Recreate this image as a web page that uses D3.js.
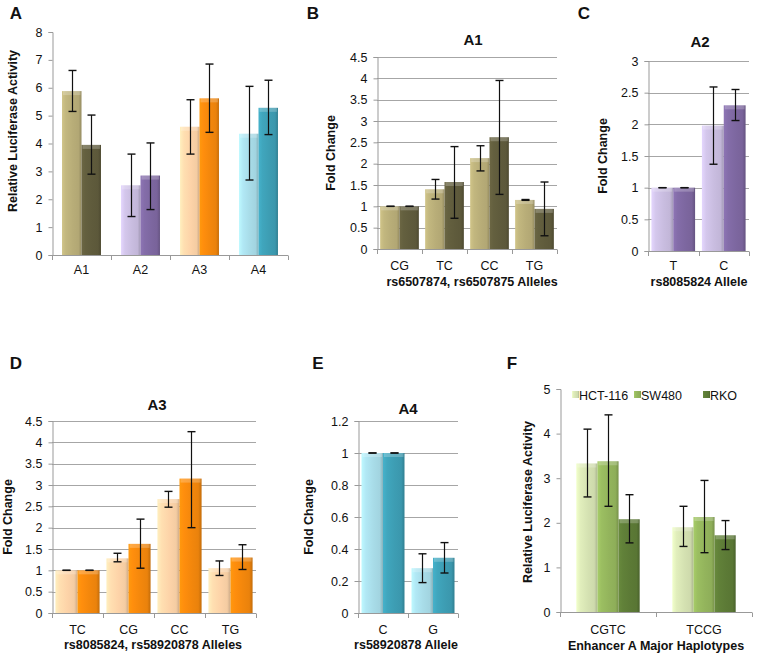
<!DOCTYPE html>
<html><head><meta charset="utf-8">
<script src="https://cdn.jsdelivr.net/npm/d3@7"></script>
<style>body{margin:0;background:#fff;} svg{display:block;font-family:"Liberation Sans",Arial,sans-serif;}</style>
</head><body>
<svg id="c" width="757" height="656"></svg>
<script>
// ---------- DATA ----------
const aCats = ["A1","A2","A3","A4"];
const aLight = [5.88, 2.50, 4.60, 4.35];
const aLightLo = [5.15, 1.38, 3.62, 2.69];
const aLightHi = [6.62, 3.62, 5.57, 6.05];
const aDark = [3.95, 2.85, 5.62, 5.28];
const aDarkLo = [2.90, 1.63, 4.40, 4.32];
const aDarkHi = [5.02, 4.02, 6.85, 6.27];
const aTicks = [0,1,2,3,4,5,6,7,8];

const bCats = ["CG","TC","CC","TG"];
const bLight = [1.00, 1.40, 2.13, 1.15];
const bLightLo = [1.00, 1.17, 1.83, 1.14];
const bLightHi = [1.00, 1.63, 2.42, 1.16];
const bDark = [1.00, 1.57, 2.62, 0.94];
const bDarkLo = [1.00, 0.72, 1.28, 0.31];
const bDarkHi = [1.00, 2.40, 3.95, 1.57];
const bTicks = [0,0.5,1,1.5,2,2.5,3,3.5,4,4.5];

const cCats = ["T","C"];
const cLight = [1.00, 1.98];
const cLightLo = [1.00, 1.37];
const cLightHi = [1.00, 2.59];
const cDark = [1.00, 2.30];
const cDarkLo = [1.00, 2.06];
const cDarkHi = [1.00, 2.55];
const cTicks = [0,0.5,1,1.5,2,2.5,3];

const dCats = ["TC","CG","CC","TG"];
const dLight = [1.00, 1.28, 2.67, 1.05];
const dLightLo = [1.00, 1.20, 2.48, 0.88];
const dLightHi = [1.00, 1.40, 2.85, 1.22];
const dDark = [1.00, 1.62, 3.15, 1.30];
const dDarkLo = [1.00, 1.05, 2.00, 1.02];
const dDarkHi = [1.00, 2.20, 4.25, 1.60];
const dTicks = [0,0.5,1,1.5,2,2.5,3,3.5,4,4.5];

const eCats = ["C","G"];
const eLight = [1.00, 0.28];
const eLightLo = [1.00, 0.19];
const eLightHi = [1.00, 0.37];
const eDark = [1.00, 0.345];
const eDarkLo = [1.00, 0.25];
const eDarkHi = [1.00, 0.44];
const eTicks = [0,0.2,0.4,0.6,0.8,1,1.2];

const fCats = ["CGTC","TCCG"];
const fSeries = ["HCT-116","SW480","RKO"];
const fHct = [3.33, 1.90];
const fHctLo = [2.58, 1.47];
const fHctHi = [4.10, 2.37];
const fSw = [3.38, 2.13];
const fSwLo = [2.37, 1.33];
const fSwHi = [4.42, 2.95];
const fRko = [2.08, 1.72];
const fRkoLo = [1.55, 1.40];
const fRkoHi = [2.63, 2.05];
const fTicks = [0,1,2,3,4,5];

// ---------- DRAW ----------
const svg = d3.select("#c");
const defs = svg.append("defs");
const gradCache = {};
function grad(color){
  if (gradCache[color]) return gradCache[color];
  const id = "g" + Object.keys(gradCache).length;
  const c = d3.color(color);
  const lg = defs.append("linearGradient").attr("id", id).attr("x1","0").attr("x2","1").attr("y1","0").attr("y2","0");
  [[0, c.brighter(0.35)],[0.2, c.brighter(0.15)],[0.55, c],[0.85, c.darker(0.1)],[1, c.darker(0.6)]]
    .forEach(([o,col]) => lg.append("stop").attr("offset", o).attr("stop-color", col.formatHex()));
  gradCache[color] = "url(#" + id + ")";
  return gradCache[color];
}
const FONT = "Liberation Sans, Arial, sans-serif";

function panel(cfg){
  const g = svg.append("g");
  const y = d3.scaleLinear().domain([0, cfg.max]).range([cfg.y0, cfg.yTop]);
  const x = d3.scaleBand().domain(cfg.cats).range([cfg.x0, cfg.x1]).padding(0);
  const bw = x.bandwidth();
  const groupW = bw * cfg.groupFrac;
  const sub = d3.scaleBand().domain(d3.range(cfg.series.length)).range([0, groupW]).padding(0);
  const colorOf = (s, i) => Array.isArray(s.color) ? s.color[i] : s.color;

  if (cfg.grid){
    g.selectAll(".grid").data(cfg.ticks.filter(t => t > 0)).join("line")
      .attr("x1", cfg.x0).attr("x2", cfg.x1)
      .attr("y1", d => Math.round(y(d)) + 0.5).attr("y2", d => Math.round(y(d)) + 0.5)
      .attr("stroke", "#a6a6a6").attr("stroke-width", 1);
  }
  const ya = d3.axisLeft(y).tickValues(cfg.ticks).tickSize(4).tickPadding(6).tickFormat(d => String(d));
  const yg = g.append("g").attr("transform", `translate(${Math.round(cfg.x0)+0.5},0)`).call(ya);
  yg.select(".domain").attr("stroke", "#999");
  yg.selectAll(".tick line").attr("stroke", "#999");
  yg.selectAll("text").attr("font-size", "12.5px").attr("fill", "#111").attr("font-family", FONT);

  cfg.series.forEach((s, si) => {
    g.selectAll(null).data(cfg.cats).join("rect")
      .attr("x", (d,i) => x(d) + (bw - groupW)/2 + sub(si))
      .attr("width", sub.bandwidth())
      .attr("y", (d,i) => y(s.vals[i]))
      .attr("height", (d,i) => y(0) - y(s.vals[i]))
      .attr("fill", (d,i) => grad(colorOf(s,i)));
    g.selectAll(null).data(cfg.cats).join("rect")
      .attr("x", (d,i) => x(d) + (bw - groupW)/2 + sub(si) + 1)
      .attr("width", sub.bandwidth() - 2)
      .attr("y", (d,i) => y(s.vals[i]))
      .attr("height", 4)
      .attr("fill", "#fff").attr("opacity", 0.22);
  });
  cfg.series.forEach((s, si) => {
    cfg.cats.forEach((d, i) => {
      const cx = Math.round(x(d) + (bw - groupW)/2 + sub(si) + sub.bandwidth()/2) + 0.5;
      const lo = y(s.lo[i]), hi = y(s.hi[i]);
      g.append("line").attr("x1", cx).attr("x2", cx).attr("y1", lo).attr("y2", hi).attr("stroke", "#111").attr("stroke-width", 1.2);
      [lo, hi].forEach(v => g.append("line").attr("x1", cx - 4).attr("x2", cx + 4).attr("y1", v).attr("y2", v).attr("stroke", "#111").attr("stroke-width", 1.4));
    });
  });
  g.append("line").attr("x1", cfg.x0).attr("x2", cfg.x1).attr("y1", Math.round(cfg.y0)+0.5).attr("y2", Math.round(cfg.y0)+0.5).attr("stroke", "#999");
  const bounds = cfg.cats.map(c => x(c)).concat([cfg.x1]);
  g.selectAll(null).data(bounds).join("line")
    .attr("x1", d => Math.round(d)+0.5).attr("x2", d => Math.round(d)+0.5)
    .attr("y1", Math.round(cfg.y0)+0.5).attr("y2", Math.round(cfg.y0)+5).attr("stroke", "#999");
  g.selectAll(null).data(cfg.cats).join("text")
    .attr("x", d => x(d) + bw/2).attr("y", cfg.catY)
    .attr("text-anchor", "middle").attr("font-size", "12.5px").attr("fill", "#111").text(d => d);

  if (cfg.title) g.append("text").attr("x", cfg.titleX).attr("y", cfg.titleY)
    .attr("text-anchor", "middle").attr("font-weight", "bold").attr("font-size", "15px").attr("fill","#111").text(cfg.title);
  g.append("text").attr("transform", `translate(${cfg.ytX},${cfg.ytY}) rotate(-90)`)
    .attr("text-anchor", "middle").attr("font-weight", "bold").attr("font-size", "12.5px").attr("fill","#111").text(cfg.ytitle);
  if (cfg.xtitle) g.append("text").attr("x", cfg.xtX).attr("y", cfg.xtY)
    .attr("text-anchor", "middle").attr("font-weight", "bold").attr("font-size", "12.5px").attr("fill","#111").text(cfg.xtitle);
  g.append("text").attr("x", cfg.lx).attr("y", cfg.ly).attr("text-anchor","middle")
    .attr("font-weight", "bold").attr("font-size", "17px").attr("fill","#111").text(cfg.letter);
  return {g, x, y};
}

const olive = ["#b8ad78", "#5f5b3c"];
const purple = ["#c9bde0", "#7d67a0"];
const orange = ["#fdd3a8", "#f3870c"];
const cyan = ["#a8dce8", "#3d9db3"];
const greens = ["#d5e2b2", "#93b45c", "#5c7a36"];

panel({letter:"A", lx:16, ly:19, x0:52, x1:288, yTop:32, y0:255, max:8, ticks:aTicks, grid:false, cats:aCats, groupFrac:0.66,
  series:[{vals:aLight, lo:aLightLo, hi:aLightHi, color:[olive[0],purple[0],orange[0],cyan[0]]},
          {vals:aDark, lo:aDarkLo, hi:aDarkHi, color:[olive[1],purple[1],orange[1],cyan[1]]}],
  catY:274, ytitle:"Relative Luciferase Activity", ytX:17, ytY:131});

panel({letter:"B", lx:313, ly:19, x0:377, x1:557, yTop:57, y0:249, max:4.5, ticks:bTicks, grid:true, cats:bCats, groupFrac:0.86,
  series:[{vals:bLight, lo:bLightLo, hi:bLightHi, color:olive[0]},{vals:bDark, lo:bDarkLo, hi:bDarkHi, color:olive[1]}],
  catY:270, title:"A1", titleX:473, titleY:45, ytitle:"Fold Change", ytX:335, ytY:153,
  xtitle:"rs6507874, rs6507875 Alleles", xtX:472, xtY:286});

panel({letter:"C", lx:584, ly:19, x0:648, x1:749, yTop:61, y0:251, max:3, ticks:cTicks, grid:true, cats:cCats, groupFrac:0.865,
  series:[{vals:cLight, lo:cLightLo, hi:cLightHi, color:purple[0]},{vals:cDark, lo:cDarkLo, hi:cDarkHi, color:purple[1]}],
  catY:270, title:"A2", titleX:700, titleY:47, ytitle:"Fold Change", ytX:607, ytY:156,
  xtitle:"rs8085824 Allele", xtX:699, xtY:286});

panel({letter:"D", lx:16, ly:369, x0:52, x1:256, yTop:421, y0:613, max:4.5, ticks:dTicks, grid:true, cats:dCats, groupFrac:0.866,
  series:[{vals:dLight, lo:dLightLo, hi:dLightHi, color:orange[0]},{vals:dDark, lo:dDarkLo, hi:dDarkHi, color:orange[1]}],
  catY:634, title:"A3", titleX:157, titleY:410, ytitle:"Fold Change", ytX:12, ytY:517,
  xtitle:"rs8085824, rs58920878 Alleles", xtX:153, xtY:649});

panel({letter:"E", lx:318, ly:369, x0:358, x1:458, yTop:421, y0:613, max:1.2, ticks:eTicks, grid:true, cats:eCats, groupFrac:0.86,
  series:[{vals:eLight, lo:eLightLo, hi:eLightHi, color:cyan[0]},{vals:eDark, lo:eDarkLo, hi:eDarkHi, color:cyan[1]}],
  catY:634, title:"A4", titleX:408, titleY:414, ytitle:"Fold Change", ytX:313, ytY:517,
  xtitle:"rs58920878 Allele", xtX:406, xtY:649});

const fp = panel({letter:"F", lx:512, ly:369, x0:560, x1:752, yTop:389, y0:612, max:5, ticks:fTicks, grid:false, cats:fCats, groupFrac:0.66,
  series:[{vals:fHct, lo:fHctLo, hi:fHctHi, color:greens[0]},{vals:fSw, lo:fSwLo, hi:fSwHi, color:greens[1]},{vals:fRko, lo:fRkoLo, hi:fRkoHi, color:greens[2]}],
  catY:634, ytitle:"Relative Luciferase Activity", ytX:532, ytY:502,
  xtitle:"Enhancer A Major Haplotypes", xtX:656, xtY:650});

// legend for F
const legX = [572, 634, 703];
const leg = fp.g.selectAll(".leg").data(fSeries).join("g").attr("transform", (d,i) => `translate(${legX[i]},395)`);
leg.append("rect").attr("x", 0).attr("y", -4).attr("width", 7).attr("height", 7).attr("fill", (d,i) => grad(greens[i]));
leg.append("text").attr("x", 7).attr("y", 4.5).attr("font-size", "12.5px").attr("fill", "#111").text(d => d);
</script>
</body></html>
